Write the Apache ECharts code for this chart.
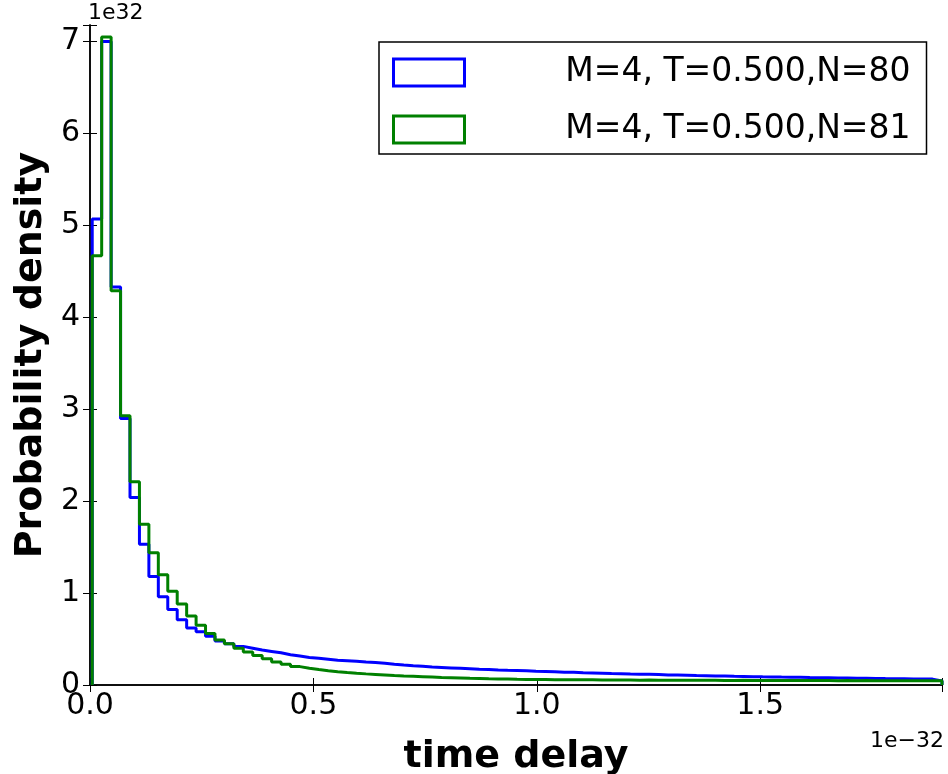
<!DOCTYPE html>
<html>
<head>
<meta charset="utf-8">
<title>time delay histogram</title>
<script src="https://cdn.jsdelivr.net/npm/echarts@6/dist/echarts.min.js"></script>
<style>
  html, body { margin: 0; padding: 0; background: #fff; }
  #chart { width: 948px; height: 774px; }
</style>
</head>
<body>
<div id="chart"></div>
<script>
// histogram bins (units of 1e-32), 90 equal bins
const binStart = 0.005
const binEnd = 1.907
const xTicks = [0, 0.5, 1.0, 1.5]
const yTicks = [0, 1, 2, 3, 4, 5, 6, 7]

const seriesNames = ['M=4, T=0.500,N=80', 'M=4, T=0.500,N=81']

// probability density (units of 1e32)
const densityN80 = [
  5.07, 7.00, 4.33, 2.90, 2.04, 1.53, 1.18, 0.96, 0.82, 0.71,
  0.62, 0.58, 0.53, 0.48, 0.45, 0.42, 0.40, 0.38, 0.365, 0.35,
  0.33, 0.315, 0.30, 0.29, 0.28, 0.27, 0.265, 0.258, 0.25, 0.245,
  0.236, 0.226, 0.217, 0.209, 0.203, 0.196, 0.191, 0.186, 0.181, 0.176,
  0.171, 0.168, 0.163, 0.160, 0.158, 0.154, 0.150, 0.148, 0.144, 0.140,
  0.138, 0.133, 0.131, 0.128, 0.125, 0.123, 0.120, 0.118, 0.116, 0.113,
  0.110, 0.109, 0.106, 0.103, 0.101, 0.099, 0.098, 0.095, 0.093, 0.091,
  0.089, 0.088, 0.086, 0.085, 0.083, 0.081, 0.080, 0.079, 0.077, 0.076,
  0.074, 0.073, 0.072, 0.070, 0.069, 0.068, 0.066, 0.065, 0.064, 0.045
]
const densityN81 = [
  4.67, 7.05, 4.29, 2.93, 2.21, 1.75, 1.44, 1.20, 1.02, 0.88,
  0.75, 0.65, 0.56, 0.49, 0.45, 0.40, 0.36, 0.32, 0.285, 0.25,
  0.225, 0.20, 0.183, 0.168, 0.155, 0.145, 0.136, 0.128, 0.121, 0.115,
  0.109, 0.103, 0.098, 0.094, 0.090, 0.086, 0.082, 0.079, 0.076, 0.073,
  0.071, 0.068, 0.066, 0.064, 0.062, 0.061, 0.060, 0.059, 0.058, 0.057,
  0.057, 0.056, 0.056, 0.055, 0.055, 0.054, 0.054, 0.053, 0.054, 0.053,
  0.052, 0.052, 0.053, 0.051, 0.051, 0.052, 0.050, 0.050, 0.051, 0.049,
  0.050, 0.049, 0.049, 0.048, 0.050, 0.048, 0.048, 0.049, 0.047, 0.048,
  0.047, 0.048, 0.046, 0.047, 0.047, 0.046, 0.047, 0.046, 0.046, 0.047
]

const font = 'DejaVu Sans'

// outline of a step histogram, like histtype='step'
function stepPoints(vals) {
  const w = (binEnd - binStart) / vals.length
  const pts = [[binStart, 0]]
  vals.forEach((v, i) => {
    const x0 = binStart + i * w
    pts.push([x0, v], [x0 + w, v])
  })
  pts.push([binEnd, 0])
  return pts
}

const onTick = (v, list) => list.some(t => Math.abs(t - v) < 1e-9)

const chart = echarts.init(document.getElementById('chart'), null, { renderer: 'canvas' })

const tickStyle = { show: true, inside: true, length: 7, lineStyle: { color: '#000', width: 1 } }
const lineStyle = { show: true, lineStyle: { color: '#000', width: 1.5 } }

chart.setOption({
  animation: false,
  backgroundColor: '#fff',
  textStyle: { fontFamily: font },
  grid: { left: 90, right: 6, top: 25, bottom: 89, containLabel: false, outerBoundsMode: 'none' },
  legend: {
    left: 379,
    top: 42,
    orient: 'vertical',
    padding: [14, 16, 8, 13],
    itemGap: 24,
    itemWidth: 71,
    itemHeight: 27,
    borderColor: '#000',
    borderWidth: 1.5,
    borderRadius: 0,
    backgroundColor: '#fff',
    selectedMode: false,
    data: [
      { name: seriesNames[0], icon: 'rect', itemStyle: { color: '#fff', borderColor: '#0000ff', borderWidth: 3 } },
      { name: seriesNames[1], icon: 'rect', itemStyle: { color: '#fff', borderColor: '#008000', borderWidth: 3 } }
    ],
    formatter: name => '{t|' + name + '}',
    textStyle: {
      rich: {
        t: { width: 441, align: 'right', fontSize: 33, fontFamily: font, color: '#000' }
      }
    }
  },
  xAxis: [
    {
      type: 'value',
      min: 0,
      max: binEnd,
      interval: 0.5,
      name: 'time delay',
      nameLocation: 'middle',
      nameGap: 53,
      nameTextStyle: { fontSize: 38, fontWeight: 'bold', color: '#000', fontFamily: font },
      axisLine: lineStyle,
      axisTick: tickStyle,
      splitLine: { show: false },
      axisLabel: {
        fontSize: 30, color: '#000', margin: 6, fontFamily: font,
        formatter: v => onTick(v, xTicks) ? v.toFixed(1) : ''
      }
    },
    {
      type: 'value',
      position: 'top',
      min: 0,
      max: binEnd,
      interval: 0.5,
      axisLine: lineStyle,
      axisTick: tickStyle,
      splitLine: { show: false },
      axisLabel: { show: false }
    }
  ],
  yAxis: [
    {
      type: 'value',
      min: 0,
      max: 7.18,
      interval: 1,
      name: 'Probability density',
      nameLocation: 'middle',
      nameGap: 40,
      nameTextStyle: { fontSize: 38, fontWeight: 'bold', color: '#000', fontFamily: font },
      axisLine: lineStyle,
      axisTick: tickStyle,
      splitLine: { show: false },
      axisLabel: {
        fontSize: 30, color: '#000', margin: 10, fontFamily: font,
        formatter: v => onTick(v, yTicks) ? String(v) : ''
      }
    },
    {
      type: 'value',
      position: 'right',
      min: 0,
      max: 7.18,
      interval: 1,
      axisLine: lineStyle,
      axisTick: tickStyle,
      splitLine: { show: false },
      axisLabel: { show: false }
    }
  ],
  graphic: [
    { type: 'text', left: 88, top: 2, style: { text: '1e32', fontSize: 22, fontFamily: font, fill: '#000' } },
    { type: 'text', right: 4, top: 730, style: { text: '1e\u221232', fontSize: 22, fontFamily: font, fill: '#000' } }
  ],
  series: [
    {
      name: seriesNames[0],
      type: 'line',
      data: stepPoints(densityN80),
      showSymbol: false,
      symbol: 'none',
      lineStyle: { color: '#0000ff', width: 3 },
      itemStyle: { color: '#0000ff' },
      z: 2
    },
    {
      name: seriesNames[1],
      type: 'line',
      data: stepPoints(densityN81),
      showSymbol: false,
      symbol: 'none',
      lineStyle: { color: '#008000', width: 3 },
      itemStyle: { color: '#008000' },
      z: 3
    }
  ]
})
</script>
</body>
</html>
